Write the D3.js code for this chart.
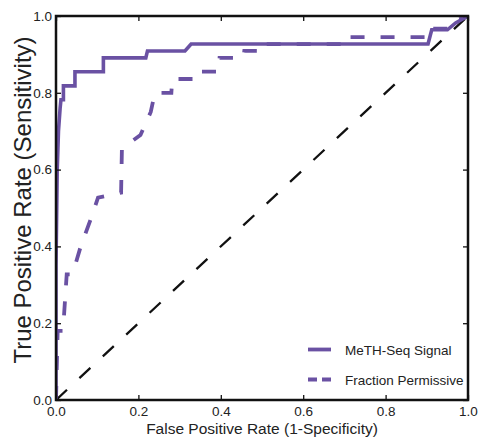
<!DOCTYPE html>
<html>
<head>
<meta charset="utf-8">
<script src="https://cdn.jsdelivr.net/npm/d3@7"></script>
<style>
  html, body { margin: 0; padding: 0; background: #fff; }
  svg { display: block; font-family: "Liberation Sans", Arial, sans-serif; }
</style>
</head>
<body>
<svg id="chart" width="479" height="438"></svg>
<script>
// ROC curves: false positive rate vs. true positive rate
const methSeqFpr = [0, 0, 0.003, 0.006, 0.010, 0.012, 0.018, 0.018, 0.046, 0.046, 0.115, 0.115, 0.218, 0.222, 0.313, 0.328, 0.903, 0.912, 0.950, 0.970, 1];
const methSeqTpr = [0, 0.35, 0.60, 0.70, 0.76, 0.782, 0.782, 0.818, 0.818, 0.855, 0.855, 0.891, 0.891, 0.909, 0.909, 0.927, 0.927, 0.964, 0.964, 0.982, 1];

const permissiveFpr = [0, 0.004, 0.017, 0.026, 0.040, 0.060, 0.084, 0.102, 0.158, 0.160, 0.205, 0.230, 0.240, 0.280, 0.282, 0.335, 0.337, 0.395, 0.397, 0.455, 0.457, 0.505, 0.507, 0.707, 0.709, 0.912, 0.915, 0.955, 0.975, 1];
const permissiveTpr = [0, 0.18, 0.18, 0.327, 0.327, 0.40, 0.47, 0.527, 0.54, 0.655, 0.69, 0.75, 0.80, 0.80, 0.836, 0.836, 0.855, 0.855, 0.891, 0.891, 0.909, 0.909, 0.927, 0.927, 0.945, 0.945, 0.967, 0.967, 0.99, 1];

const chanceLine = [0, 1];

const xTicks = [0, 0.2, 0.4, 0.6, 0.8, 1.0];
const yTicks = [0, 0.2, 0.4, 0.6, 0.8, 1.0];

const seriesNames = ["MeTH-Seq Signal", "Fraction Permissive"];
const purple = "#6a51a3";

const svg = d3.select("#chart");
const plot = { left: 56, right: 468, top: 16, bottom: 400 };

const x = d3.scaleLinear().domain([0, 1]).range([plot.left, plot.right]);
const y = d3.scaleLinear().domain([0, 1]).range([plot.bottom, plot.top]);

svg.append("defs").append("clipPath").attr("id", "plot-clip")
  .append("rect")
  .attr("x", plot.left).attr("y", plot.top)
  .attr("width", plot.right - plot.left).attr("height", plot.bottom - plot.top);

const line = d3.line().x(d => x(d[0])).y(d => y(d[1]));
const g = svg.append("g").attr("clip-path", "url(#plot-clip)");

// chance diagonal
g.append("path")
  .datum(chanceLine.map(v => [v, v]))
  .attr("d", line)
  .attr("fill", "none").attr("stroke", "#111").attr("stroke-width", 2.3)
  .attr("stroke-dasharray", "15,17");

// fraction permissive (dashed)
g.append("path")
  .datum(permissiveFpr.map((f, i) => [f, permissiveTpr[i]]))
  .attr("d", line)
  .attr("fill", "none").attr("stroke", purple).attr("stroke-width", 3.8)
  .attr("stroke-dasharray", "14,16");

// MeTH-Seq signal (solid)
g.append("path")
  .datum(methSeqFpr.map((f, i) => [f, methSeqTpr[i]]))
  .attr("d", line)
  .attr("fill", "none").attr("stroke", purple).attr("stroke-width", 3.6)
  .attr("stroke-linejoin", "miter");

// axes with inward ticks on all four sides
const tickLen = 5;
const bottomAxis = d3.axisBottom(x).tickValues(xTicks).tickFormat(d3.format(".1f")).tickSizeInner(-tickLen).tickSizeOuter(0).tickPadding(6);
const leftAxis = d3.axisLeft(y).tickValues(yTicks).tickFormat(d3.format(".1f")).tickSizeInner(-tickLen).tickSizeOuter(0).tickPadding(4);
const topAxis = d3.axisTop(x).tickValues(xTicks).tickFormat("").tickSizeInner(-tickLen).tickSizeOuter(0);
const rightAxis = d3.axisRight(y).tickValues(yTicks).tickFormat("").tickSizeInner(-tickLen).tickSizeOuter(0);

function styleAxis(sel) {
  sel.select(".domain").remove();
  sel.selectAll(".tick line").attr("stroke", "#111").attr("stroke-width", 1.3);
  sel.selectAll(".tick text").attr("fill", "#222").style("font-size", "13.5px")
    .style("font-family", "'Liberation Sans', Arial, sans-serif");
}

svg.append("g").attr("transform", `translate(0,${plot.bottom})`).call(bottomAxis).call(styleAxis);
svg.append("g").attr("transform", `translate(${plot.left},0)`).call(leftAxis).call(styleAxis);
svg.append("g").attr("transform", `translate(0,${plot.top})`).call(topAxis).call(styleAxis);
svg.append("g").attr("transform", `translate(${plot.right},0)`).call(rightAxis).call(styleAxis);

// frame
svg.append("rect")
  .attr("x", plot.left).attr("y", plot.top)
  .attr("width", plot.right - plot.left).attr("height", plot.bottom - plot.top)
  .attr("fill", "none").attr("stroke", "#111").attr("stroke-width", 2.5);

// axis titles
svg.append("text")
  .attr("x", 262).attr("y", 434)
  .attr("text-anchor", "middle").attr("fill", "#222")
  .style("font-size", "15.5px")
  .text("False Positive Rate (1-Specificity)");

svg.append("text")
  .attr("transform", "translate(31,200) rotate(-90)")
  .attr("text-anchor", "middle").attr("fill", "#222")
  .style("font-size", "24px")
  .text("True Positive Rate (Sensitivity)");

// legend
const legend = svg.append("g");
const legendRows = [
  { name: seriesNames[0], dash: null, y: 349.5 },
  { name: seriesNames[1], dash: "9,5", y: 379.5 }
];
legendRows.forEach(r => {
  legend.append("line")
    .attr("x1", 308).attr("x2", 331).attr("y1", r.y).attr("y2", r.y)
    .attr("stroke", purple).attr("stroke-width", 3.8)
    .attr("stroke-dasharray", r.dash);
  legend.append("text")
    .attr("x", 345).attr("y", r.y + 5)
    .attr("fill", "#222").style("font-size", "13.5px")
    .text(r.name);
});
</script>
</body>
</html>
